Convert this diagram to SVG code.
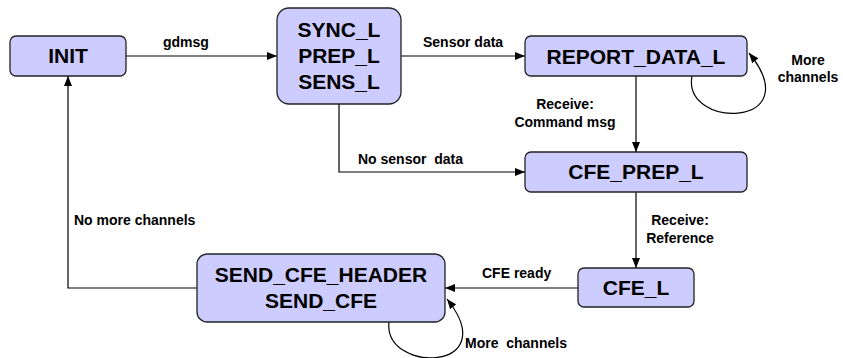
<svg xmlns="http://www.w3.org/2000/svg" width="843" height="358" viewBox="0 0 843 358">
<defs>
<marker id="arr" markerWidth="10" markerHeight="8" refX="10" refY="4" orient="auto" markerUnits="userSpaceOnUse">
<path d="M0,0 L10,4 L0,8 Z" fill="#000"/>
</marker>
<style>
.node{fill:#ccccff;stroke:#222;stroke-width:1.3}
.nt{font-family:"Liberation Sans",Arial,sans-serif;font-weight:bold;font-size:21px;fill:#000;text-anchor:middle}
.lb{font-family:"Liberation Sans",Arial,sans-serif;font-weight:bold;font-size:14px;fill:#000}
.c{fill:none;stroke:#000;stroke-width:1.2}
</style>
</defs>
<rect width="843" height="358" fill="#fff"/>
<g id="connectors">
<path class="c" d="M126,56 H277" marker-end="url(#arr)"/>
<path class="c" d="M401,56 H525" marker-end="url(#arr)"/>
<path class="c" d="M339,104 V172 H525" marker-end="url(#arr)"/>
<path class="c" d="M636,76 V152" marker-end="url(#arr)"/>
<path class="c" d="M692,76 C682,130 810,128 749,53" marker-end="url(#arr)"/>
<path class="c" d="M636,192 V268" marker-end="url(#arr)"/>
<path class="c" d="M578,288 H445" marker-end="url(#arr)"/>
<path class="c" d="M389,322 C383,374 505,372 447,299" marker-end="url(#arr)"/>
<path class="c" d="M197,288 H68 V76" marker-end="url(#arr)"/>
<text class="lb" x="163" y="47">gdmsg</text>
<text class="lb" x="423" y="47">Sensor data</text>
<text class="lb" x="358" y="164" xml:space="preserve">No sensor  data</text>
<text class="lb" x="565" y="109" text-anchor="middle">Receive:</text>
<text class="lb" x="565" y="127" text-anchor="middle">Command msg</text>
<text class="lb" x="808" y="65" text-anchor="middle">More</text>
<text class="lb" x="808" y="82" text-anchor="middle">channels</text>
<text class="lb" x="680" y="225" text-anchor="middle">Receive:</text>
<text class="lb" x="680" y="243" text-anchor="middle">Reference</text>
<text class="lb" x="482" y="278">CFE ready</text>
<text class="lb" x="465" y="348" xml:space="preserve">More  channels</text>
<text class="lb" x="74" y="225">No more channels</text>
</g>
<g id="INIT"><rect class="node" x="10" y="36" width="116" height="40" rx="6"/><text class="nt" x="68" y="63">INIT</text></g>
<g id="SYNC"><rect class="node" x="277" y="8" width="124" height="96" rx="12"/><text class="nt" x="339" y="37">SYNC_L</text><text class="nt" x="339" y="63">PREP_L</text><text class="nt" x="339" y="89">SENS_L</text></g>
<g id="REPORT_DATA_L"><rect class="node" x="525" y="36" width="222" height="40" rx="6"/><text class="nt" x="636" y="64">REPORT_DATA_L</text></g>
<g id="CFE_PREP_L"><rect class="node" x="525" y="152" width="222" height="40" rx="6"/><text class="nt" x="636" y="179">CFE_PREP_L</text></g>
<g id="CFE_L"><rect class="node" x="578" y="268" width="116" height="39" rx="6"/><text class="nt" x="636" y="295">CFE_L</text></g>
<g id="SEND"><rect class="node" x="197" y="254" width="248" height="68" rx="10"/><text class="nt" x="321" y="282">SEND_CFE_HEADER</text><text class="nt" x="321" y="308">SEND_CFE</text></g>
</svg>
